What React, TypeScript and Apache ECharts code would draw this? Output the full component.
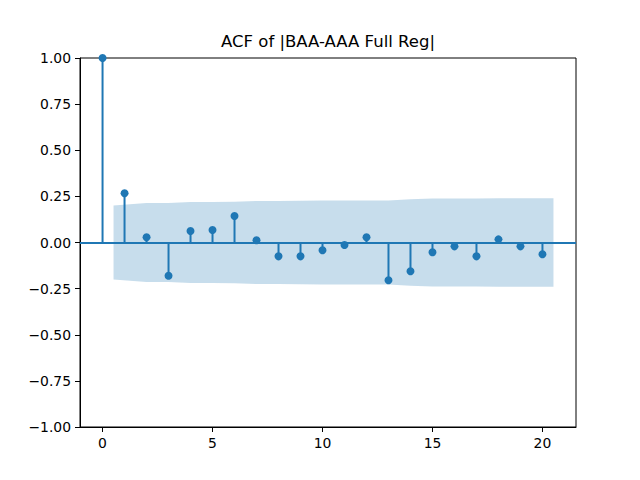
import React, { useEffect, useRef } from "react";
import * as echarts from "echarts";

const lags = [0, 1, 2, 3, 4, 5, 6, 7, 8, 9, 10, 11, 12, 13, 14, 15, 16, 17, 18, 19, 20];
const acfValues = [
  1.0, 0.267, 0.028, -0.18, 0.062, 0.068, 0.144, 0.012, -0.075, -0.075, -0.042,
  -0.014, 0.028, -0.205, -0.156, -0.053, -0.021, -0.075, 0.017, -0.021, -0.064,
];
const bandX = [0.5, 2, 3, 4, 5, 6, 7, 8, 9, 10, 11, 12, 13, 14, 15, 16, 17, 18, 19, 20.5];
const bandHalfWidth = [
  0.2, 0.214, 0.214, 0.22, 0.22, 0.221, 0.225, 0.225, 0.226, 0.227, 0.227, 0.227,
  0.227, 0.235, 0.239, 0.239, 0.239, 0.24, 0.24, 0.24,
];
const xTicks = [0, 5, 10, 15, 20];
const titleText = "ACF of |BAA-AAA Full Reg|";

const C0 = "#1f77b4";
const FONT = "DejaVu Sans";

export default function App() {
  const ref = useRef<HTMLDivElement>(null);
  useEffect(() => {
    document.body.style.margin = "0";
    if (!ref.current) return;
    const chart = echarts.init(ref.current, undefined, { renderer: "svg" });
    const pts = lags.map((l, i) => [l, acfValues[i]]);
    chart.setOption({
      animation: false,
      grid: {
        left: 80,
        right: 64,
        top: 58,
        bottom: 53,
        show: true,
        borderColor: "#000",
        borderWidth: 1,
        backgroundColor: "transparent",
      },
      graphic: [
        {
          type: "text",
          x: 328,
          y: 50,
          style: {
            text: titleText,
            fontSize: 16.5,
            fontFamily: FONT,
            fill: "#000",
            align: "center",
            verticalAlign: "bottom",
          },
        },
      ],
      xAxis: {
        type: "value",
        min: -1.025,
        max: 21.525,
        splitLine: { show: false },
        axisLine: { show: true, onZero: false, lineStyle: { color: "#000", width: 1 } },
        axisTick: { show: true, length: 5, lineStyle: { color: "#000" }, customValues: xTicks },
        axisLabel: {
          customValues: xTicks,
          margin: 9,
          color: "#000",
          fontSize: 13.9,
          fontFamily: FONT,
        },
      },
      yAxis: {
        type: "value",
        min: -1,
        max: 1,
        interval: 0.25,
        splitLine: { show: false },
        axisLine: { show: true, onZero: false, lineStyle: { color: "#000", width: 1 } },
        axisTick: { show: true, length: 5, lineStyle: { color: "#000" } },
        axisLabel: {
          margin: 9,
          color: "#000",
          fontSize: 13.9,
          fontFamily: FONT,
          formatter: (v: number) => v.toFixed(2).replace("-", "\u2212"),
        },
      },
      series: [
        {
          type: "line",
          data: bandX.map((x, i) => [x, bandHalfWidth[i]]),
          symbol: "none",
          lineStyle: { width: 0, opacity: 0 },
          areaStyle: { color: "rgba(31,119,180,0.25)", opacity: 1 },
          silent: true,
          z: 1,
        },
        {
          type: "line",
          data: bandX.map((x, i) => [x, -bandHalfWidth[i]]),
          symbol: "none",
          lineStyle: { width: 0, opacity: 0 },
          areaStyle: { color: "rgba(31,119,180,0.25)", opacity: 1 },
          silent: true,
          z: 1,
        },
        {
          type: "bar",
          data: pts,
          barWidth: 2,
          itemStyle: { color: C0 },
          silent: true,
          z: 2,
        },
        {
          type: "scatter",
          data: pts,
          symbol: "circle",
          symbolSize: 8,
          itemStyle: { color: C0, opacity: 1 },
          silent: true,
          z: 4,
          markLine: {
            silent: true,
            symbol: "none",
            label: { show: false },
            lineStyle: { color: C0, type: "solid", width: 1.8 },
            data: [{ yAxis: 0 }],
            z: 3,
          },
        },
      ],
    });
    return () => chart.dispose();
  }, []);
  return <div ref={ref} style={{ width: 640, height: 480 }} />;
}
